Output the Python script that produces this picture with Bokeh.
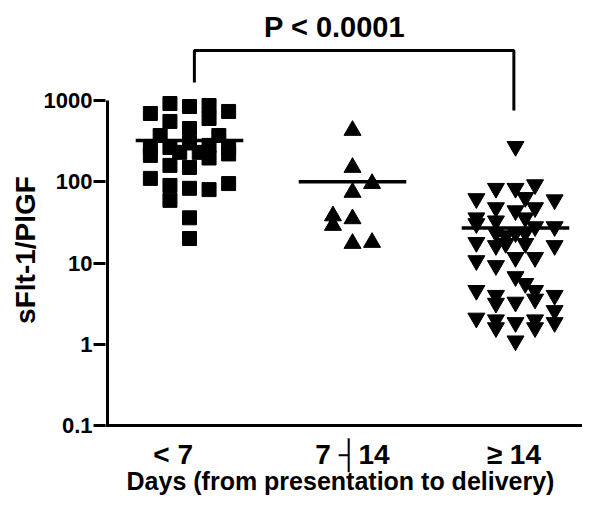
from bokeh.plotting import figure
from bokeh.models import Range1d, FixedTicker, Title
from bokeh.core.properties import value
from bokeh.embed import file_html
from bokeh.resources import INLINE

# ---------------- data ----------------
categories = ["< 7", "7 ┤14", "≥ 14"]
x_title = "Days (from presentation to delivery)"
y_title = "sFlt-1/PlGF"
p_label = "P < 0.0001"
y_ticks = [0.1, 1, 10, 100, 1000]
y_tick_labels = ["0.1", "1", "10", "100", "1000"]

# group "< 7" (squares): column index within the dot-plot, value
g1_col = [-4, -2, 0, 2, 2, 4, -2, 0,
          -4, -4, -3, -2, -2, 0, 1, 2, 2, 3, 4, 4, -1,
          0, -4, -2, -2, 0, 2, 4, 0, 0]
g1_val = [692, 918, 844, 868, 600, 733, 552, 452,
          264, 211, 371, 264, 159, 300, 230, 280, 196, 371, 264, 220, 230,
          150, 110, 90, 59, 83, 80, 95, 36, 20]

# group "7 -| 14" (triangles)
g2_col = [0, 0, 2, 0, -2, -2, 0, 0, 2]
g2_val = [428, 150, 95, 74, 38, 29, 35, 17.4, 17.9]

# group ">= 14" (inverted triangles)
g3_col = [0,
          2, -2, 0, -4, 4, 1,
          -2, 2, 0, 1, -4, -4, -2, 4,
          -2, -1, 0, 1, 2,
          -4, -2, -1, 1, 4,
          -4, -2, 0, 2,
          0, 1, 2, -4, -2, -2, 0, 2, 4, 4,
          -4, -2, -2, 0, 2, 2, 4, 0]
g3_val = [272,
          92, 83, 83, 62, 60, 64,
          48, 48, 44, 36, 36, 30.5, 33, 28,
          23.6, 21.7, 23.6, 23.6, 28,
          17.9, 16.4, 17.4, 17.4, 16.4,
          10.7, 9.3, 11.7, 11.7,
          6.8, 5.6, 4.6, 4.6, 4.0, 3.2, 3.3, 3.6, 4.0, 2.6,
          2.1, 2.0, 1.6, 1.85, 2.0, 1.6, 1.85, 1.1]

means = [322, 100, 27]

# ---------------- layout ----------------
W, H = 582, 499
B_LEFT = 105
FRAME_W = W - B_LEFT
PX_UNIT = 163.0        # px per category unit
PX_DECADE = 81.25      # px per decade
G1_IN_FRAME = 84.0     # px from frame left to first group
COL_STEP = 0.06        # category units per dot column
Y_AXIS_PX = 425        # canvas y of the 0.1 line
BASE_SHIFT = 0.38      # text anchor correction (em) to reach the baseline

x_start = 1 - G1_IN_FRAME / PX_UNIT
x_end = x_start + FRAME_W / PX_UNIT

def xpx(sx):
    # canvas px -> data x
    return x_start + (sx - B_LEFT) / PX_UNIT

def ypx(sy):
    # canvas px -> data value on the log scale
    return 10 ** ((Y_AXIS_PX - sy) / PX_DECADE - 1)

def ybase(sy, size):
    # data y for a text whose baseline should sit at canvas px sy
    return ypx(sy - BASE_SHIFT * size)

y_start = ypx(H)
y_end = ypx(0)

FONT = "Liberation Sans"

p = figure(width=W, height=H, x_range=Range1d(x_start, x_end),
           y_range=Range1d(y_start, y_end), y_axis_type="log",
           x_axis_location=None,
           output_backend="svg", toolbar_location=None,
           min_border_left=B_LEFT, min_border_right=0,
           min_border_top=0, min_border_bottom=0)
p.title.visible = False
p.outline_line_color = None
p.grid.visible = False
p.background_fill_color = "white"
p.border_fill_color = "white"

# y axis
ya = p.yaxis[0]
ya.ticker = FixedTicker(ticks=y_ticks)
ya.major_label_overrides = {t: l for t, l in zip(y_ticks, y_tick_labels)}
ya.axis_line_color = None
ya.major_tick_line_width = 3
ya.major_tick_line_color = "black"
ya.major_tick_out = 12
ya.major_tick_in = 0
ya.minor_tick_line_color = None
ya.major_label_standoff = 1
ya.major_label_text_font = FONT
ya.major_label_text_font_style = "bold"
ya.major_label_text_font_size = "22px"
ya.major_label_text_color = "black"

# y title
p.add_layout(Title(text=y_title, align="center", standoff=0,
                   text_font=FONT, text_font_style="bold",
                   text_font_size="28px", text_color="black"), "left")

# axis lines (y stops at 1000, x runs along 0.1)
x_axisline = xpx(107)
p.segment(x0=[x_axisline], y0=[y_ticks[0]], x1=[x_axisline], y1=[y_ticks[-1]],
          line_width=3, line_color="black")
p.segment(x0=[x_start], y0=[y_ticks[0]], x1=[x_end], y1=[y_ticks[0]],
          line_width=3, line_color="black")

# category labels and x title
label_pos = [0.9, 2.0, 2.99]
p.text(x=label_pos, y=[ybase(465, 28)] * 3, text=categories,
       text_align="center", text_baseline="alphabetic", text_font=value(FONT),
       text_font_style="bold", text_font_size="28px", text_color="black")
p.text(x=[xpx(340)], y=[ybase(490, 25)], text=[x_title],
       text_align="center", text_baseline="alphabetic", text_font=value(FONT),
       text_font_style="bold", text_font_size="25px", text_color="black")

# points
groups = [(1, g1_col, g1_val, "square", 14),
          (2, g2_col, g2_val, "triangle", 17),
          (3, g3_col, g3_val, "inverted_triangle", 17)]
for g, cols, vals, mk, sz in groups:
    xs = [g + c * COL_STEP for c in cols]
    p.scatter(xs, vals, marker=mk, size=sz, fill_color="black",
              line_color="black")

# mean lines
gpos = [1, 2, 3]
p.segment(x0=[g - 0.33 for g in gpos], y0=means,
          x1=[g + 0.33 for g in gpos], y1=means,
          line_width=3.5, line_color="black")

# bracket and P value
yb_top, yb_l, yb_r = ypx(50), ypx(82), ypx(110)
p.line([1.03, 1.03, 2.99, 2.99], [yb_l, yb_top, yb_top, yb_r],
       line_width=3, line_color="black")
p.text(x=[1.89], y=[ybase(38, 29)], text=[p_label], text_align="center",
       text_baseline="alphabetic", text_font=value(FONT),
       text_font_style="bold", text_font_size="29px", text_color="black")

open("out.html", "w").write(file_html(p, INLINE))
